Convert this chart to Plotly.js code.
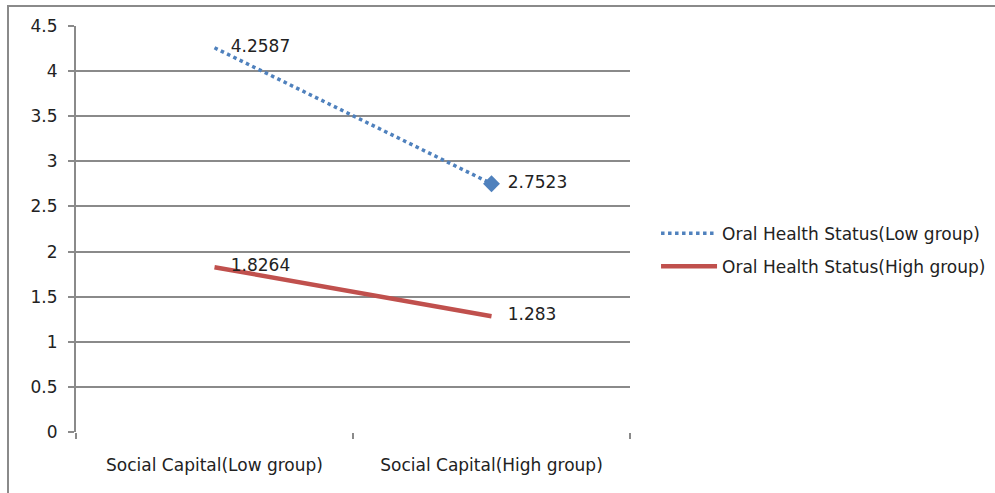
<!DOCTYPE html>
<html><head><meta charset="utf-8">
<script src="https://cdn.plot.ly/plotly-3.0.1.min.js"></script>
<style>body{margin:0;background:#fff}#wrap{position:relative;width:995px;height:493px;overflow:hidden}
#frame{position:absolute;left:7px;top:5px;width:1000px;height:500px;border:2px solid #8a8a8a;pointer-events:none}
</style></head><body>
<div id="wrap"><div id="chart" style="width:995px;height:493px"></div><div id="frame"></div></div>
<script>
const categories = ["Social Capital(Low group)", "Social Capital(High group)"];
const lowGroup = [4.2587, 2.7523];
const highGroup = [1.8264, 1.283];
const lowLabels = ["4.2587", "2.7523"];
const highLabels = ["1.8264", "1.283"];
const seriesNames = ["Oral Health Status(Low group)", "Oral Health Status(High group)"];
const yTicks = [0, 0.5, 1, 1.5, 2, 2.5, 3, 3.5, 4, 4.5];
const yTickText = ["0", "0.5", "1", "1.5", "2", "2.5", "3", "3.5", "4", "4.5"];

const font = "DejaVu Sans, sans-serif";
const fs = 17;
const pad = "   ";
const traces = [
  {x: categories, y: lowGroup, name: seriesNames[0], mode: "lines+text",
   text: lowLabels.map(t => pad + t), textposition: "middle right",
   textfont: {size: fs, color: "#222", family: font},
   line: {color: "#4F81BD", width: 3.5, dash: "dot"},
   legendgroup: "a"},
  {x: categories.slice(1), y: lowGroup.slice(1), mode: "markers", showlegend: false,
   marker: {symbol: "diamond", size: 13, color: "#4F81BD"}, legendgroup: "a"},
  {x: categories, y: highGroup, name: seriesNames[1], mode: "lines+text",
   text: highLabels.map(t => pad + t), textposition: "middle right",
   textfont: {size: fs, color: "#222", family: font},
   line: {color: "#C0504D", width: 4.5},
   legendgroup: "b"}
];
const layout = {
  width: 995, height: 493,
  margin: {l: 76, r: 365, t: 26, b: 61, autoexpand: false},
  paper_bgcolor: "#fff", plot_bgcolor: "#fff",
  font: {family: font, size: fs, color: "#222"},
  showlegend: true,
  legend: {x: 1.047, y: 0.448, xanchor: "left", yanchor: "middle",
    font: {size: fs, color: "#222", family: font}, traceorder: "grouped", tracegroupgap: 8,
    itemwidth: 56, bgcolor: "rgba(0,0,0,0)"},
  xaxis: {type: "category", range: [-0.5, 1.5], tickson: "boundaries", ticks: "outside",
    ticklen: 6, tickwidth: 2, tickcolor: "#8a8a8a", showgrid: false, showline: false,
    zeroline: false, ticklabelstandoff: 21, tickfont: {size: fs, color: "#222"}},
  yaxis: {range: [0, 4.5], tickvals: yTicks, ticktext: yTickText, ticks: "outside",
    ticklen: 6, tickwidth: 2, tickcolor: "#8a8a8a", showgrid: true, gridcolor: "#8a8a8a",
    gridwidth: 2, showline: true, linecolor: "#8a8a8a", linewidth: 2, zeroline: false,
    tickfont: {size: fs, color: "#222"}, ticklabelstandoff: 7},
};
Plotly.newPlot("chart", traces, layout, {displayModeBar: false, staticPlot: true});
</script></body></html>
